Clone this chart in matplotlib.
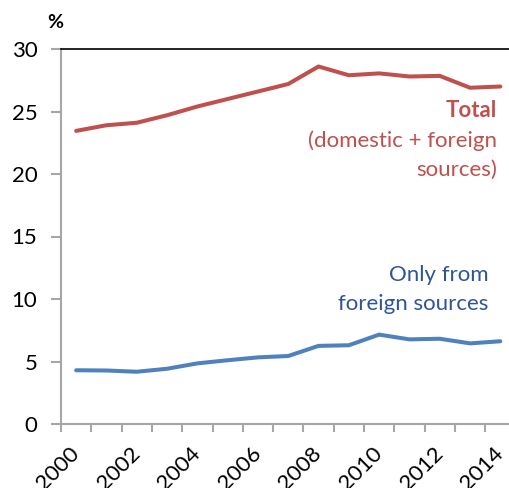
import numpy as np
import matplotlib.pyplot as plt

plt.rcParams['font.family'] = ['Lato', 'DejaVu Sans']

# Data
years = list(range(2000, 2015))
total = [23.45, 23.9, 24.1, 24.7, 25.4, 26.0, 26.6, 27.2, 28.6, 27.9, 28.05, 27.8, 27.85, 26.9, 27.0]
foreign = [4.3, 4.28, 4.18, 4.42, 4.85, 5.1, 5.33, 5.44, 6.25, 6.3, 7.15, 6.77, 6.82, 6.45, 6.62]
year_labels = [str(y) for y in years[::2]]

red = '#C0504D'
blue = '#4F81BD'
grey = '#A6A6A6'

fig = plt.figure(figsize=(5.09, 4.88), dpi=100)
ax = fig.add_axes([61 / 509, 64 / 488, 454.5 / 509, 375 / 488])

x = np.arange(len(years))
ax.plot(x, total, color=red, lw=2.9, solid_capstyle='round', solid_joinstyle='round')
ax.plot(x, foreign, color=blue, lw=2.9, solid_capstyle='round', solid_joinstyle='round')

ax.set_xlim(-0.5, len(years) - 0.5)
ax.set_ylim(0, 30)
ax.set_yticks(range(0, 31, 5))

# category boundaries as major ticks, labels at every other category centre
ax.set_xticks(np.arange(-0.5, len(years), 1.0))
ax.set_xticklabels([])
ax.set_xticks(x[::2], minor=True)
ax.set_xticklabels(year_labels, minor=True, rotation=45, ha='right', va='center',
                   rotation_mode='anchor', fontsize=16)
ax.tick_params(axis='x', which='major', length=6, width=1.5, color=grey, direction='out')
ax.tick_params(axis='x', which='minor', length=0, pad=19)
ax.tick_params(axis='y', length=7, width=1.5, color=grey, labelsize=16, pad=10)

for s in ['left', 'bottom']:
    ax.spines[s].set_color(grey)
    ax.spines[s].set_linewidth(1.5)
ax.spines['top'].set_color('black')
ax.spines['top'].set_linewidth(1.2)
ax.spines['right'].set_visible(False)

fig.text(55 / 509, 1 - 22 / 488, '%', fontsize=14, fontweight='bold', ha='center', va='center')

ax.text(13.89, 24.56, 'Total', color=red, fontsize=16, fontweight='bold', ha='right', va='baseline')
ax.text(13.89, 22.16, '(domestic + foreign', color=red, fontsize=16, ha='right', va='baseline')
ax.text(13.89, 19.84, 'sources)', color=red, fontsize=16, ha='right', va='baseline')
ax.text(13.6, 11.44, 'Only from', color='#2F5597', fontsize=16, ha='right', va='baseline')
ax.text(13.6, 9.12, 'foreign sources', color='#2F5597', fontsize=16, ha='right', va='baseline')

fig.savefig('out.png', dpi=100)
